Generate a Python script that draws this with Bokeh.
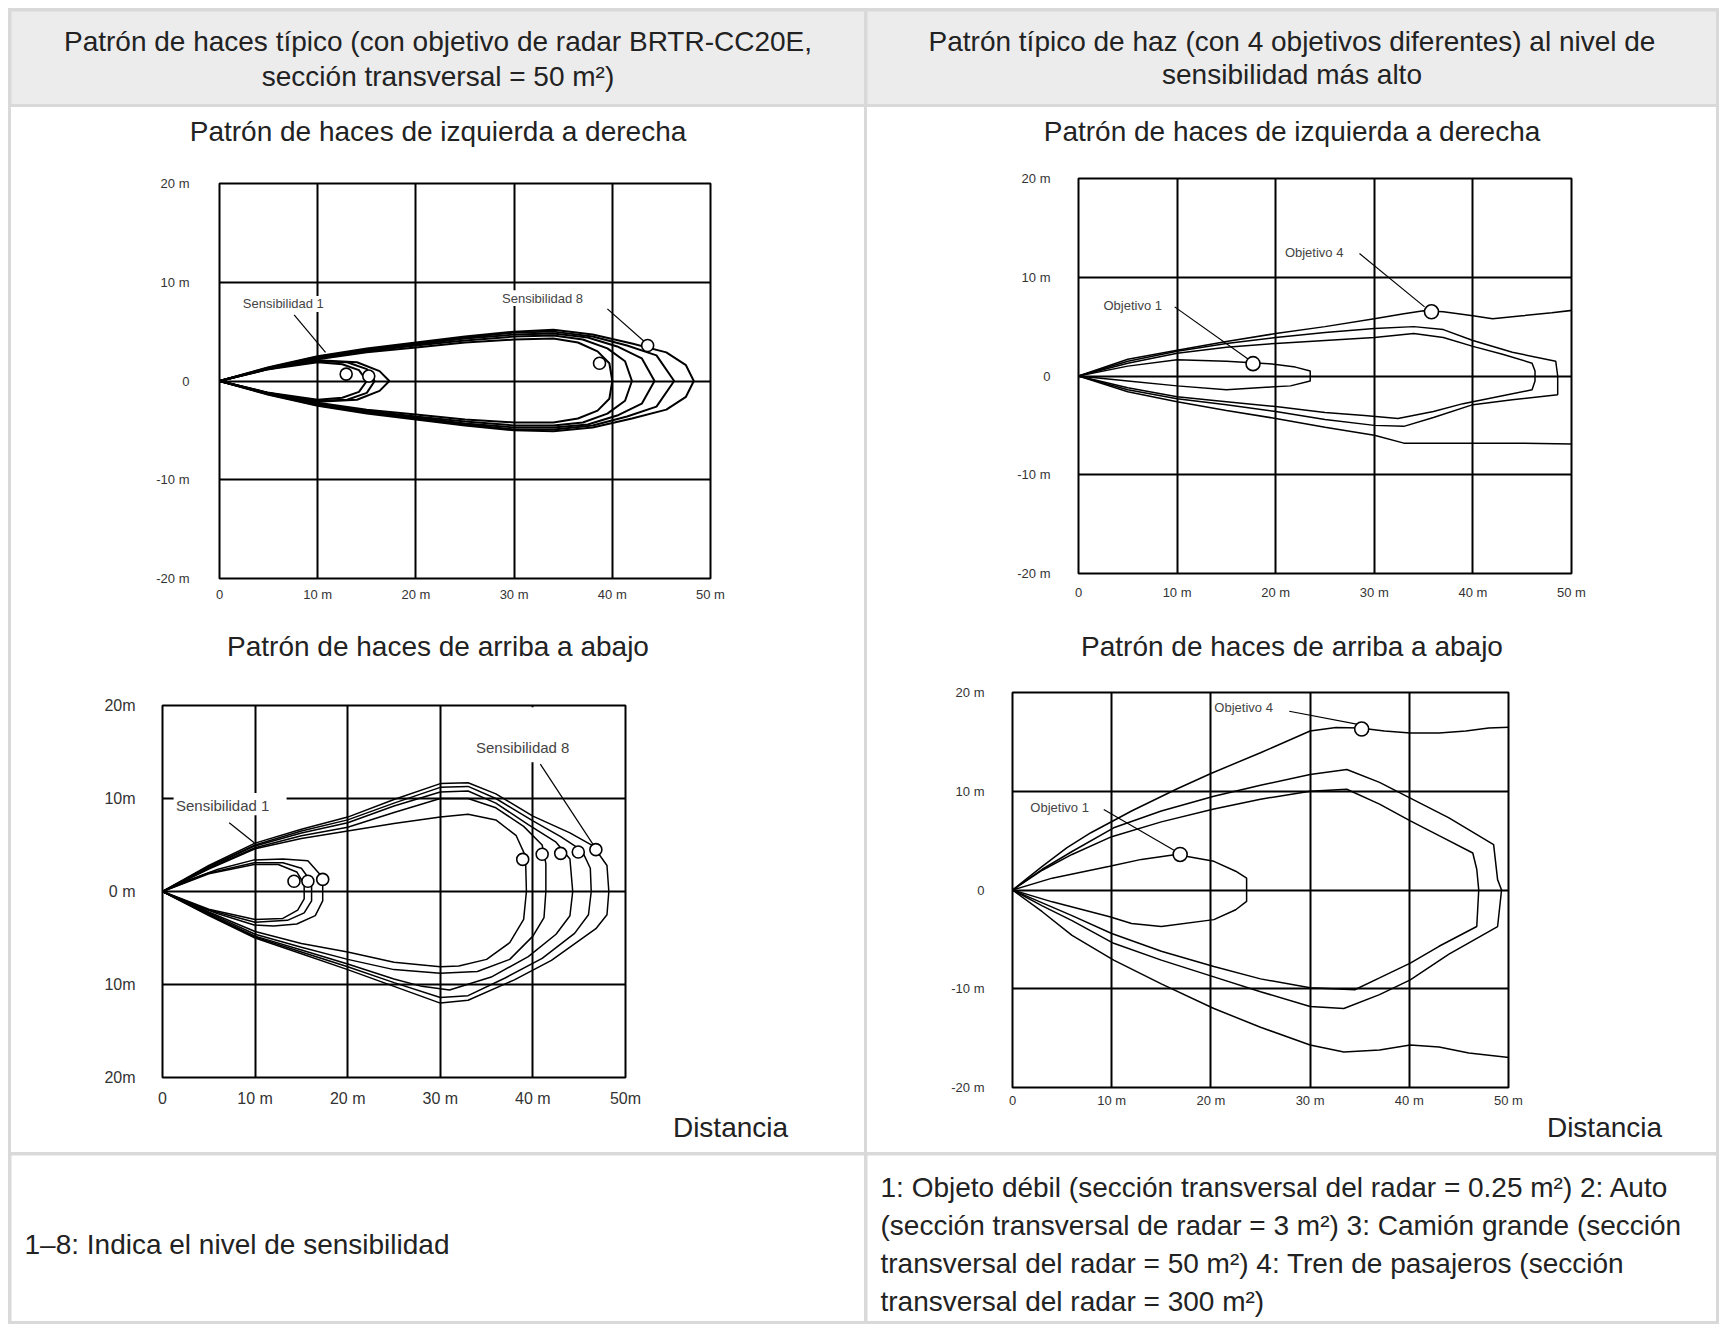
from bokeh.plotting import figure
from bokeh.models import Range1d, FixedTicker, Column, Row
from bokeh.core.properties import value
from bokeh.embed import file_html
from bokeh.resources import INLINE

FONT = "Liberation Sans"

# ---------------- texts ----------------
header_left = ["Patrón de haces típico (con objetivo de radar BRTR-CC20E,",
               "sección transversal = 50 m²)"]
header_right = ["Patrón típico de haz (con 4 objetivos diferentes) al nivel de",
                "sensibilidad más alto"]
title_lr = "Patrón de haces de izquierda a derecha"
title_tb = "Patrón de haces de arriba a abajo"
dist_label = "Distancia"
footer_left = ["1–8: Indica el nivel de sensibilidad"]
footer_right = ["1: Objeto débil (sección transversal del radar = 0.25 m²) 2: Auto",
                "(sección transversal de radar = 3 m²) 3: Camión grande (sección",
                "transversal del radar = 50 m²) 4: Tren de pasajeros (sección",
                "transversal del radar = 300 m²)"]

# ---------------- ticks ----------------
x_ticks = [0, 10, 20, 30, 40, 50]
y_ticks = [-20, -10, 0, 10, 20]
x_tick_labels = ["0", "10 m", "20 m", "30 m", "40 m", "50 m"]
y_tick_labels = ["-20 m", "-10 m", "0", "10 m", "20 m"]
x_tick_labels_c3 = ["0", "10 m", "20 m", "30 m", "40 m", "50m"]
y_tick_labels_c3 = ["20m", "10m", "0 m", "10m", "20m"]

# ---------------- chart 1: left-right, sensitivity 1..8 ----------------
c1_s1_x = [0, 5, 10, 12.5, 14.2, 15.0, 14.2, 12.5, 10, 5, 0]
c1_s1_y = [0, 1.2, 1.9, 1.7, 1.1, 0, -1.1, -1.7, -1.9, -1.2, 0]
c1_s2_x = [0, 5, 10, 13, 15, 15.8, 15, 13, 10, 5, 0]
c1_s2_y = [0, 1.25, 2.0, 1.9, 1.2, 0, -1.2, -1.9, -2.0, -1.25, 0]
c1_s3_x = [0, 5, 10, 14, 16.3, 17.3, 16.3, 14, 10, 5, 0]
c1_s3_y = [0, 1.3, 2.1, 1.9, 1.0, 0, -1.0, -1.9, -2.1, -1.3, 0]
c1_s4_x = [0, 5, 10, 15, 20, 25, 30, 34, 36.5, 38.5, 39.7, 40.0, 39.7, 38.5, 36.5, 34, 30, 25, 20, 15, 10, 5, 0]
c1_s4_y = [0, 1.2, 2.2, 2.9, 3.4, 3.9, 4.2, 4.3, 3.9, 3.0, 1.8, 0, -1.8, -3.0, -3.8, -4.2, -4.2, -3.9, -3.4, -2.9, -2.2, -1.2, 0]
c1_s5_x = [0, 5, 10, 15, 20, 25, 30, 34, 37, 39.5, 41.3, 42.0, 41.3, 39.5, 37, 34, 30, 25, 20, 15, 10, 5, 0]
c1_s5_y = [0, 1.25, 2.3, 3.0, 3.6, 4.1, 4.5, 4.6, 4.2, 3.3, 2.0, 0, -2.0, -3.3, -4.2, -4.5, -4.5, -4.1, -3.6, -3.0, -2.3, -1.25, 0]
c1_s6_x = [0, 5, 10, 15, 20, 25, 30, 34, 37.5, 40.5, 43, 44.3, 43, 40.5, 37.5, 34, 30, 25, 20, 15, 10, 5, 0]
c1_s6_y = [0, 1.3, 2.4, 3.1, 3.7, 4.3, 4.7, 4.8, 4.4, 3.5, 2.3, 0, -2.3, -3.5, -4.4, -4.7, -4.7, -4.3, -3.7, -3.1, -2.4, -1.3, 0]
c1_s7_x = [0, 5, 10, 15, 20, 25, 30, 34, 38, 41.5, 44.5, 46.3, 44.5, 41.5, 38, 34, 30, 25, 20, 15, 10, 5, 0]
c1_s7_y = [0, 1.35, 2.45, 3.2, 3.8, 4.4, 4.9, 5.0, 4.5, 3.6, 2.6, 0, -2.6, -3.6, -4.5, -4.9, -4.9, -4.4, -3.8, -3.2, -2.45, -1.35, 0]
c1_s8_x = [0, 5, 10, 15, 20, 25, 30, 34, 38, 42, 45.5, 47.5, 48.3, 47.5, 45.5, 42, 38, 34, 30, 25, 20, 15, 10, 5, 0]
c1_s8_y = [0, 1.4, 2.5, 3.3, 3.9, 4.5, 5.0, 5.2, 4.7, 3.8, 2.9, 1.6, 0, -1.6, -2.9, -3.8, -4.7, -5.1, -5.0, -4.5, -3.9, -3.3, -2.5, -1.4, 0]
c1_mark_x = [12.9, 15.2, 38.7, 43.6]
c1_mark_y = [0.7, 0.5, 1.8, 3.6]
c1_lab_text = ["Sensibilidad 1", "Sensibilidad 8"]
c1_lab_x = [6.5, 32.9]
c1_lab_y = [7.8, 8.4]
c1_box_l = [2.0, 28.2]
c1_box_r = [11.0, 37.6]
c1_box_b = [7.0, 7.6]
c1_box_t = [8.6, 9.2]
c1_lead_x0 = [7.6, 39.5]
c1_lead_y0 = [6.7, 7.3]
c1_lead_x1 = [10.8, 43.6]
c1_lead_y1 = [2.9, 3.7]

# ---------------- chart 2: left-right, objetivos 1..4 ----------------
c2_o1_x = [0, 5, 10, 15, 19.3, 22, 23.5, 23.5, 21.5, 19, 15, 10, 5, 0]
c2_o1_y = [0, 1.0, 1.65, 1.5, 1.25, 0.9, 0.5, -0.5, -1.0, -1.15, -1.4, -1.0, -0.5, 0]
c2_o2_x = [0, 5, 10, 15, 20, 25, 30, 34, 37, 40, 43, 46, 46.3, 46.3, 46, 43, 39, 36, 32.4, 29, 25, 20, 15, 10, 5, 0]
c2_o2_y = [0, 1.3, 2.3, 2.9, 3.3, 3.6, 3.9, 4.3, 3.9, 3.0, 2.2, 1.3, 0.5, -0.5, -1.4, -2.0, -2.8, -3.6, -4.3, -4.0, -3.7, -3.1, -2.6, -2.1, -1.2, 0]
c2_o3_x = [0, 5, 10, 15, 20, 25, 30, 34, 37, 40, 44, 48.4, 48.6, 48.6, 44, 40, 36, 33, 30, 25, 20, 15, 10, 5, 0]
c2_o3_y = [0, 1.5, 2.5, 3.3, 3.9, 4.4, 4.8, 5.0, 4.7, 3.6, 2.4, 1.5, 0, -1.9, -2.4, -2.9, -4.2, -5.1, -5.0, -4.4, -3.6, -2.9, -2.3, -1.4, 0]
c2_o4_x = [50.5, 48, 45, 42, 40, 37, 35, 33, 30, 25, 20, 15, 10, 5, 0, 5, 10, 15, 20, 25, 30, 33, 37, 45, 50.5]
c2_o4_y = [6.7, 6.4, 6.1, 5.8, 6.1, 6.5, 6.6, 6.3, 5.8, 5.0, 4.3, 3.5, 2.6, 1.7, 0, -1.6, -2.6, -3.5, -4.3, -5.2, -6.0, -6.8, -6.8, -6.8, -6.9]
c2_mark_x = [17.7, 35.8]
c2_mark_y = [1.25, 6.5]
c2_lab_text = ["Objetivo 1", "Objetivo 4"]
c2_lab_x = [5.5, 23.9]
c2_lab_y = [7.1, 12.5]
c2_lead_x0 = [9.75, 28.5]
c2_lead_y0 = [7.0, 12.4]
c2_lead_x1 = [17.3, 35.1]
c2_lead_y1 = [1.65, 7.0]

# ---------------- chart 3: top-bottom, sensitivity 1..8 ----------------
c3_s1_x = [0, 5, 9.9, 12.5, 14.5, 15.3, 15.3, 14.6, 13, 10, 5, 0]
c3_s1_y = [0, 1.9, 2.9, 2.9, 2.1, 0.8, -0.8, -2.0, -2.9, -3.0, -1.9, 0]
c3_s2_x = [0, 5, 9.9, 13, 15, 16.1, 16.1, 15.3, 13.5, 10, 5, 0]
c3_s2_y = [0, 2.0, 3.1, 3.1, 2.5, 1.0, -1.0, -2.3, -3.1, -3.3, -2.0, 0]
c3_s3_x = [0, 3, 6, 9.9, 13, 15.7, 17.3, 17.3, 16.5, 14.5, 12, 9.9, 6, 3, 0]
c3_s3_y = [0, 1.3, 2.4, 3.4, 3.5, 3.3, 1.5, -1.0, -2.6, -3.5, -3.7, -3.6, -2.4, -1.3, 0]
c3_s4_x = [0, 5, 10, 15, 20, 25, 30, 33, 36, 38.2, 39.2, 39.3, 39.0, 37.5, 35, 32, 30, 25, 20, 15, 10, 5, 0]
c3_s4_y = [0, 2.4, 4.6, 5.7, 6.5, 7.3, 8.0, 8.3, 7.7, 6.0, 3.8, 0, -3.0, -5.5, -7.3, -8.0, -8.1, -7.6, -6.5, -5.6, -4.3, -2.2, 0]
c3_s5_x = [0, 5, 10, 15, 20, 25, 30, 33, 36, 39, 41, 41.4, 41.4, 41.2, 40, 37.5, 34, 30, 25, 20, 15, 10, 5, 0]
c3_s5_y = [0, 2.5, 4.7, 6.0, 6.9, 8.5, 10.0, 10.0, 9.0, 7.0, 5.0, 3.0, 0, -2.8, -4.8, -7.3, -8.6, -8.8, -8.4, -7.3, -6.0, -4.6, -2.3, 0]
c3_s6_x = [0, 5, 10, 15, 20, 25, 30, 33, 36, 39.5, 42.5, 44, 44.3, 44, 42.5, 39.5, 35.5, 31, 28, 25, 20, 15, 10, 5, 0]
c3_s6_y = [0, 2.6, 4.9, 6.3, 7.4, 9.2, 10.7, 10.8, 9.5, 7.2, 5.3, 3.5, 0, -2.6, -4.6, -7.0, -9.2, -10.6, -10.2, -9.4, -7.8, -6.3, -4.8, -2.4, 0]
c3_s7_x = [0, 5, 10, 15, 20, 25, 30, 33, 36, 40, 43, 45.3, 46.2, 46.3, 46, 44.5, 41, 37, 33, 30, 25, 20, 15, 10, 5, 0]
c3_s7_y = [0, 2.7, 5.0, 6.5, 7.7, 9.5, 11.2, 11.3, 10.0, 7.6, 5.9, 4.4, 2.5, 0, -2.5, -4.5, -7.2, -9.3, -11.2, -11.4, -9.8, -8.1, -6.5, -4.9, -2.5, 0]
c3_s8_x = [0, 5, 10, 15, 20, 25, 30, 33, 36, 40, 44, 46.5, 48, 48.2, 48, 46.8, 42, 38, 33, 30, 25, 20, 15, 10, 5, 0]
c3_s8_y = [0, 2.8, 5.2, 6.7, 8.0, 9.9, 11.6, 11.7, 10.5, 8.1, 6.3, 4.9, 2.8, 0, -2.5, -4.0, -7.4, -9.5, -11.7, -12.0, -10.2, -8.4, -6.7, -5.0, -2.6, 0]
c3_mark_x = [14.2, 15.7, 17.3, 38.9, 41.0, 43.0, 44.9, 46.8]
c3_mark_y = [1.1, 1.1, 1.3, 3.45, 4.0, 4.1, 4.25, 4.5]
c3_lab_text = ["Sensibilidad 1", "Sensibilidad 8"]
c3_lab_x = [6.5, 38.9]
c3_lab_y = [9.2, 15.5]
c3_box_l = [1.2, 33.4]
c3_box_r = [13.4, 44.2]
c3_box_b = [8.2, 13.9]
c3_box_t = [10.6, 19.8]
c3_lead_x0 = [7.2, 40.8]
c3_lead_y0 = [7.4, 13.7]
c3_lead_x1 = [9.9, 46.6]
c3_lead_y1 = [5.25, 4.9]

# ---------------- chart 4: top-bottom, objetivos 1..4 ----------------
c4_o1_x = [0, 4, 9.8, 13, 16.5, 20.3, 22.5, 23.6, 23.6, 22.5, 20.3, 15, 12, 9.8, 4, 0]
c4_o1_y = [0, 1.2, 2.4, 3.1, 3.6, 2.9, 1.9, 1.2, -1.15, -2.0, -3.0, -3.7, -3.4, -2.7, -1.2, 0]
c4_o2_x = [0, 3, 6, 10, 15, 20.3, 25, 30, 33.7, 37, 40.1, 43, 46.4, 46.8, 47.0, 46.8, 43, 40.1, 37, 34.5, 30, 25, 20.3, 15, 10, 6, 3, 0]
c4_o2_y = [0, 2.0, 3.6, 5.4, 6.9, 8.2, 9.2, 10.0, 10.2, 8.7, 7.0, 5.5, 3.75, 2.1, 0, -3.7, -5.7, -7.4, -8.9, -10.1, -9.9, -9.0, -7.75, -6.2, -4.4, -2.6, -1.3, 0]
c4_o3_x = [0, 3, 6, 10.2, 15, 20.3, 25, 30, 33.7, 37, 40.1, 44, 48.5, 48.9, 49.3, 48.9, 44, 40.1, 37, 33.4, 30, 25, 20.3, 15, 10.2, 6, 3, 0]
c4_o3_y = [0, 2.1, 3.9, 6.3, 8.0, 9.5, 10.6, 11.7, 12.2, 10.9, 9.3, 7.3, 4.6, 1.05, 0, -3.7, -6.5, -9.1, -10.6, -12.0, -11.8, -10.3, -8.8, -7.1, -5.4, -3.1, -1.6, 0]
c4_o4_x = [50.5, 48, 45.7, 43, 40.1, 37.5, 35, 32.6, 30, 25, 20, 16.5, 12, 7.9, 5.5, 3, 0,
           3, 6, 10.2, 15, 20.3, 25, 30, 33.4, 37, 40.1, 43, 46, 50.5]
c4_o4_y = [16.5, 16.4, 16.1, 15.9, 15.9, 16.1, 16.4, 16.45, 16.1, 13.9, 11.8, 10.2, 8.0, 5.8, 4.3, 2.4, 0,
           -2.2, -4.6, -7.1, -9.5, -12.0, -13.9, -15.7, -16.4, -16.2, -15.7, -15.9, -16.5, -17.0]
c4_mark_x = [16.9, 35.2]
c4_mark_y = [3.6, 16.3]
c4_lab_text = ["Objetivo 1", "Objetivo 4"]
c4_lab_x = [4.75, 23.3]
c4_lab_y = [8.4, 18.5]
c4_lead_x0 = [9.2, 27.9]
c4_lead_y0 = [8.15, 18.1]
c4_lead_x1 = [16.5, 34.7]
c4_lead_y1 = [3.9, 16.8]

HEADER_BG = "#ececec"
TEXT = "#222222"


def text_cell(w, h, bg, xs, ys, texts, size, align):
    p = figure(width=w, height=h, x_range=Range1d(0, w), y_range=Range1d(h, 0),
               x_axis_location=None, y_axis_location=None, min_border=0,
               toolbar_location=None, output_backend="svg", frame_align=False,
               outline_line_color=None, background_fill_color=bg, border_fill_color=bg)
    p.grid.visible = False
    p.text(x=xs, y=ys, text=texts, text_font=value(FONT), text_font_size=size,
           text_align=align, text_baseline="middle", text_color=TEXT)
    return p


def chart(w, h, left, right, top, bottom, xs, ys, lw, mx, my, msize,
          lx, ly, lt, lsize, x0, y0, x1, y1, xlab, ylab, tsize, xst, yst,
          boxes=None):
    p = figure(width=w, height=h, x_range=Range1d(0, 50), y_range=Range1d(-20, 20),
               min_border_left=left, min_border_right=right,
               min_border_top=top, min_border_bottom=bottom,
               toolbar_location=None, output_backend="svg", frame_align=False,
               background_fill_color="white", border_fill_color="white",
               outline_line_color="black", outline_line_width=2)
    p.xgrid.ticker = FixedTicker(ticks=x_ticks)
    p.ygrid.ticker = FixedTicker(ticks=y_ticks)
    p.grid.grid_line_color = "black"
    p.grid.grid_line_width = 2
    p.grid.grid_line_alpha = 1.0
    p.xaxis.ticker = FixedTicker(ticks=x_ticks)
    p.yaxis.ticker = FixedTicker(ticks=y_ticks)
    p.xaxis.major_label_overrides = {t: l for t, l in zip(x_ticks, xlab)}
    p.yaxis.major_label_overrides = {t: l for t, l in zip(y_ticks, ylab)}
    p.axis.axis_line_color = None
    p.axis.major_tick_line_color = None
    p.axis.minor_tick_line_color = None
    p.axis.major_tick_out = 0
    p.axis.major_tick_in = 0
    p.axis.minor_tick_out = 0
    p.axis.minor_tick_in = 0
    p.axis.major_label_text_font = FONT
    p.axis.major_label_text_font_size = tsize
    p.axis.major_label_text_color = "#333333"
    p.xaxis.major_label_standoff = xst
    p.yaxis.major_label_standoff = yst
    if boxes is not None:
        bl, br, bb, bt = boxes
        p.quad(left=bl, right=br, bottom=bb, top=bt, fill_color="white", line_color=None)
    p.multi_line(xs=xs, ys=ys, line_color="black", line_width=lw)
    p.segment(x0=x0, y0=y0, x1=x1, y1=y1, line_color="black", line_width=1.2)
    p.scatter(x=mx, y=my, marker="circle", size=msize, fill_color="white",
              line_color="black", line_width=1.6)
    p.text(x=lx, y=ly, text=lt, text_font=value(FONT), text_font_size=lsize,
           text_align="center", text_baseline="middle", text_color="#444444")
    return p


LW, RW = 853, 849
BIG = "28px"

# headers
h_left = text_cell(LW, 93, HEADER_BG, [LW / 2, LW / 2], [30, 65], header_left, BIG, "center")
h_right = text_cell(RW, 93, HEADER_BG, [RW / 2, RW / 2], [30, 63], header_right, BIG, "center")

# left column
t1 = text_cell(LW, 53, "white", [LW / 2], [24], [title_lr], BIG, "center")
c1 = chart(LW, 450, 208, 154, 23, 32,
           [c1_s1_x, c1_s2_x, c1_s3_x, c1_s4_x, c1_s5_x, c1_s6_x, c1_s7_x, c1_s8_x],
           [c1_s1_y, c1_s2_y, c1_s3_y, c1_s4_y, c1_s5_y, c1_s6_y, c1_s7_y, c1_s8_y], 2.0,
           c1_mark_x, c1_mark_y, 12,
           c1_lab_x, c1_lab_y, c1_lab_text, "13px",
           c1_lead_x0, c1_lead_y0, c1_lead_x1, c1_lead_y1,
           x_tick_labels, y_tick_labels, "13px", 8, 30,
           boxes=(c1_box_l, c1_box_r, c1_box_b, c1_box_t))
t3 = text_cell(LW, 70, "white", [LW / 2], [36], [title_tb], BIG, "center")
c3 = chart(LW, 430, 151, 239, 25, 33,
           [c3_s1_x, c3_s2_x, c3_s3_x, c3_s4_x, c3_s5_x, c3_s6_x, c3_s7_x, c3_s8_x],
           [c3_s1_y, c3_s2_y, c3_s3_y, c3_s4_y, c3_s5_y, c3_s6_y, c3_s7_y, c3_s8_y], 1.5,
           c3_mark_x, c3_mark_y, 12,
           c3_lab_x, c3_lab_y, c3_lab_text, "15px",
           c3_lead_x0, c3_lead_y0, c3_lead_x1, c3_lead_y1,
           x_tick_labels_c3, y_tick_labels_c3, "16px", 12, 27,
           boxes=(c3_box_l, c3_box_r, c3_box_b, c3_box_t))
d3 = text_cell(LW, 42, "white", [719], [17], [dist_label], BIG, "center")

# right column
t2 = text_cell(RW, 53, "white", [RW / 2], [24], [title_lr], BIG, "center")
c2 = chart(RW, 450, 211, 145, 18, 37,
           [c2_o1_x, c2_o2_x, c2_o3_x, c2_o4_x],
           [c2_o1_y, c2_o2_y, c2_o3_y, c2_o4_y], 1.5,
           c2_mark_x, c2_mark_y, 14,
           c2_lab_x, c2_lab_y, c2_lab_text, "13px",
           c2_lead_x0, c2_lead_y0, c2_lead_x1, c2_lead_y1,
           x_tick_labels, y_tick_labels, "13px", 11, 28)
t4 = text_cell(RW, 70, "white", [RW / 2], [36], [title_tb], BIG, "center")
c4 = chart(RW, 430, 145, 208, 12, 22,
           [c4_o1_x, c4_o2_x, c4_o3_x, c4_o4_x],
           [c4_o1_y, c4_o2_y, c4_o3_y, c4_o4_y], 1.5,
           c4_mark_x, c4_mark_y, 14,
           c4_lab_x, c4_lab_y, c4_lab_text, "13px",
           c4_lead_x0, c4_lead_y0, c4_lead_x1, c4_lead_y1,
           x_tick_labels, y_tick_labels, "13px", 5, 28)
d4 = text_cell(RW, 42, "white", [737], [17], [dist_label], BIG, "center")

# footers
f_left = text_cell(LW, 166, "white", [13], [89], footer_left, BIG, "left")
f_right = text_cell(RW, 166, "white", [13, 13, 13, 13], [32, 70, 108, 146], footer_right, BIG, "left")

left_col = Column(children=[t1, c1, t3, c3, d3], spacing=0,
                  styles={"background-color": "white"})
right_col = Column(children=[t2, c2, t4, c4, d4], spacing=0,
                   styles={"background-color": "white"})

layout = Column(children=[Row(children=[h_left, h_right], spacing=3),
                          Row(children=[left_col, right_col], spacing=3),
                          Row(children=[f_left, f_right], spacing=3)],
                spacing=3,
                styles={"background-color": "#d9d9d9", "padding": "3px",
                        "margin": "8px 0px 0px 8px"})

open("out.html", "w").write(file_html(layout, INLINE))
